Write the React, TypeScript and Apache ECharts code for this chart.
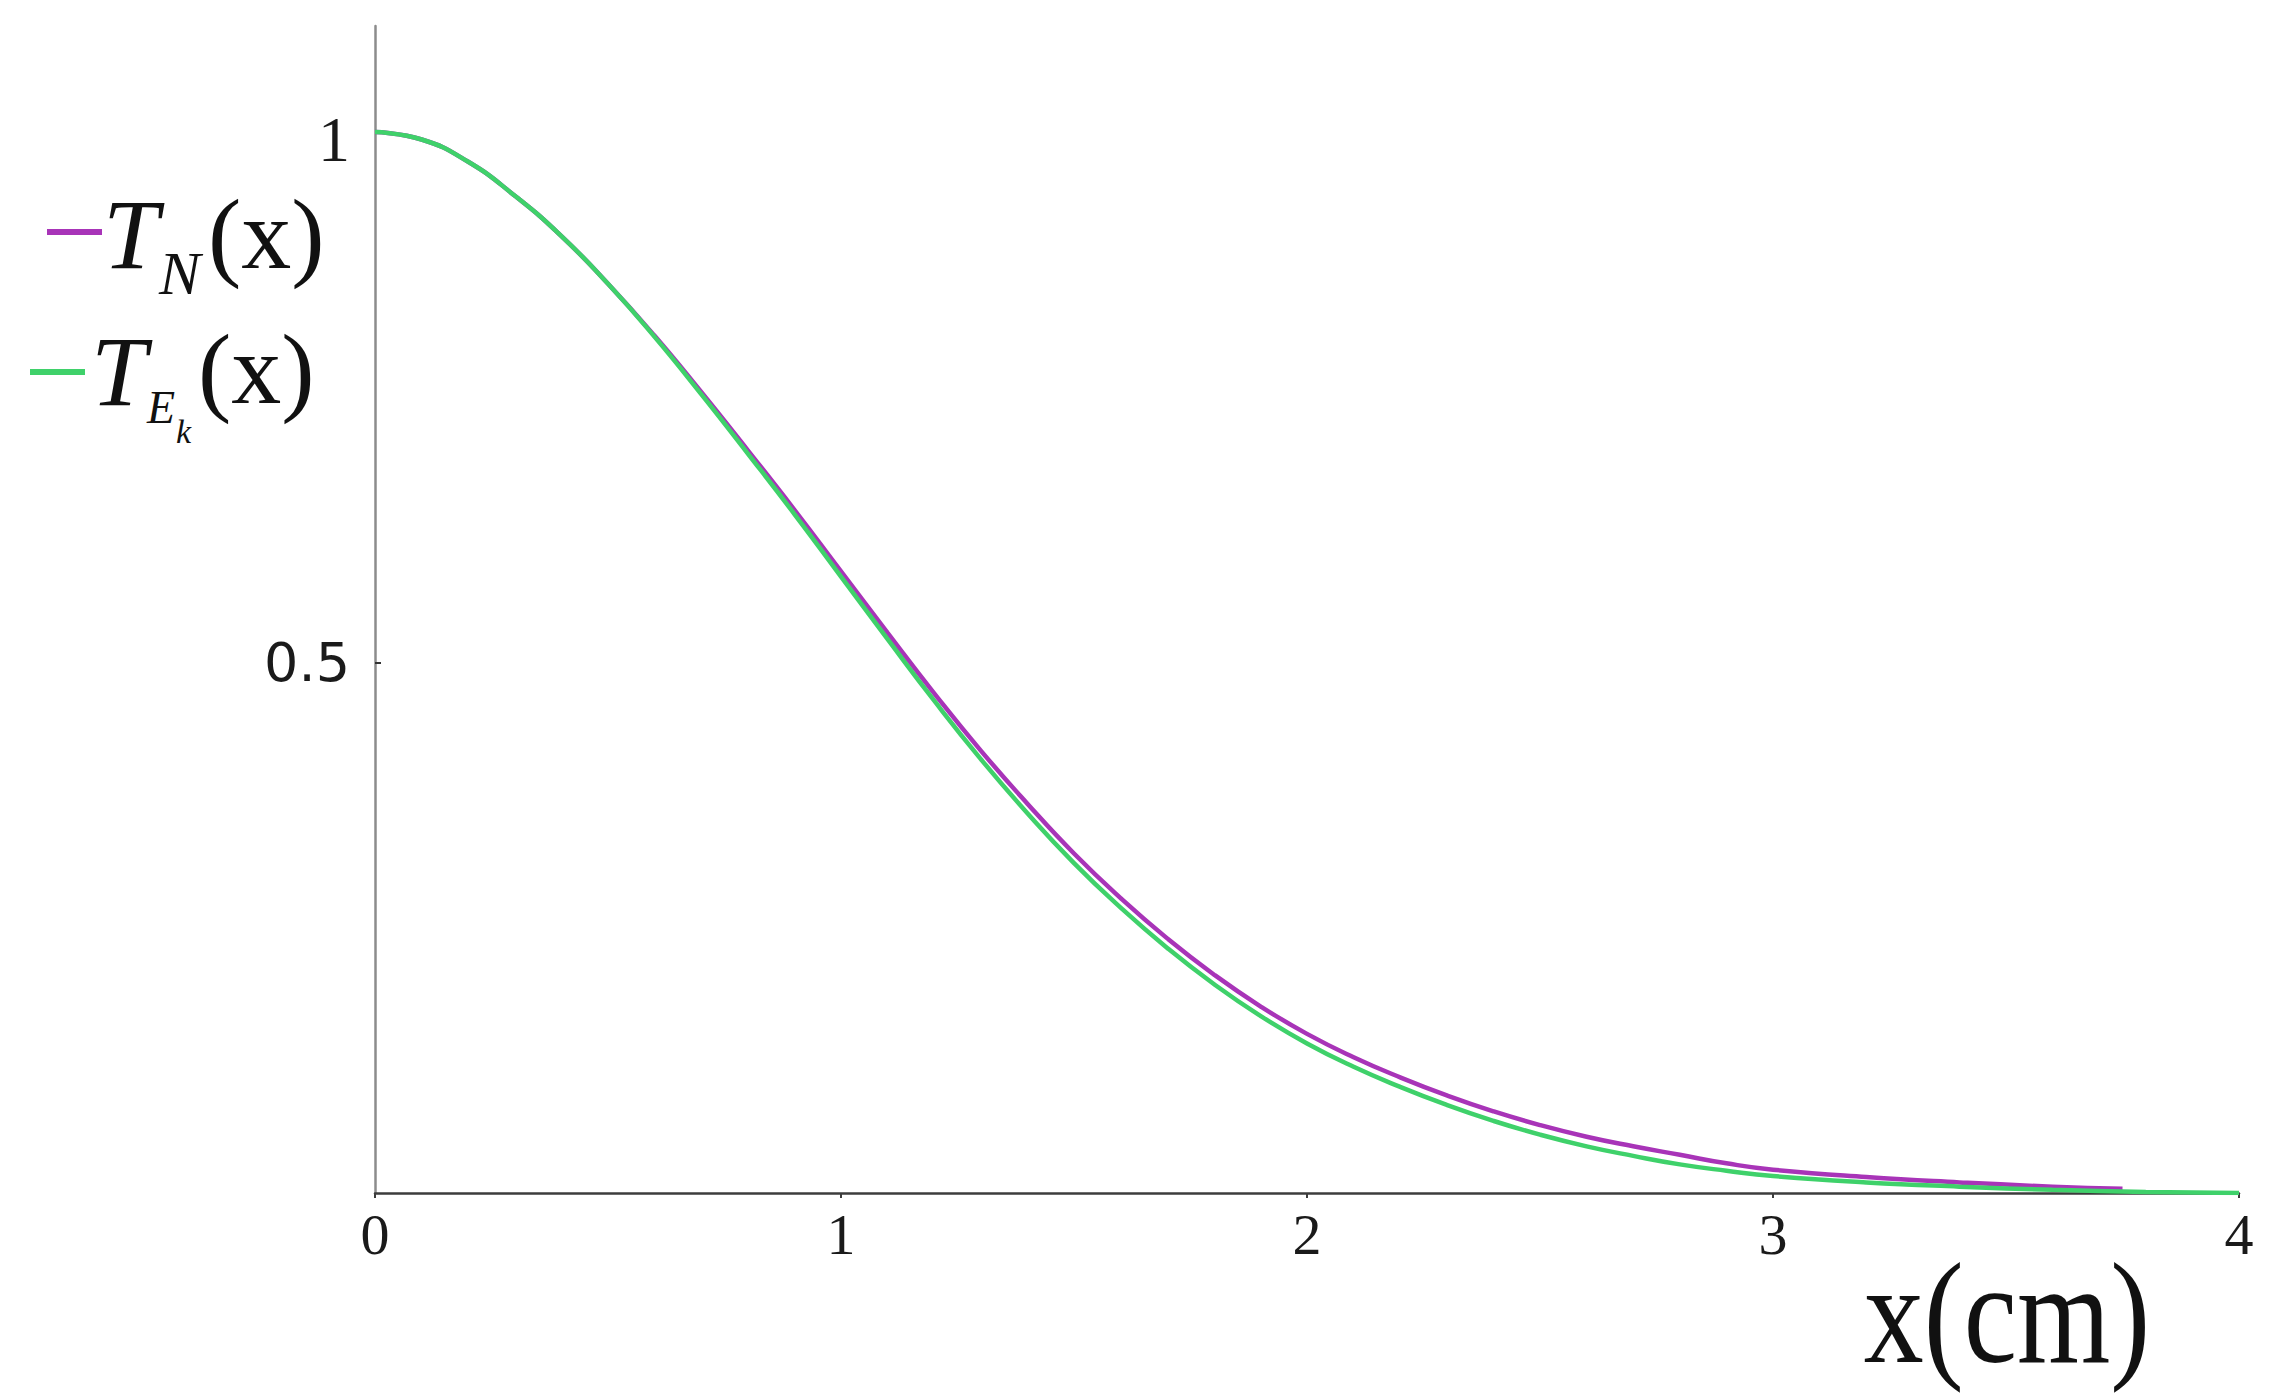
import React, { useEffect, useRef } from "react";
import * as echarts from "echarts";

// x positions (cm) and values
const xEk = [0, 0.1, 0.2, 0.3, 0.4, 0.5, 0.6, 0.7, 0.8, 0.9, 1.0, 1.1, 1.2, 1.3, 1.4, 1.5, 1.6, 1.7, 1.8, 1.9, 2.0, 2.1, 2.2, 2.3, 2.4, 2.5, 2.6, 2.7, 2.8, 2.9, 3.0, 3.2, 3.4, 3.6, 3.8, 4.0];
const tEkValues = [1.0, 0.993, 0.972, 0.94, 0.902, 0.857, 0.807, 0.753, 0.697, 0.64, 0.581, 0.522, 0.464, 0.409, 0.358, 0.311, 0.269, 0.231, 0.197, 0.167, 0.141, 0.119, 0.1, 0.083, 0.068, 0.055, 0.044, 0.035, 0.027, 0.021, 0.016, 0.01, 0.006, 0.003, 0.001, 0.0];

const xN = [0, 0.1, 0.2, 0.3, 0.4, 0.5, 0.6, 0.7, 0.8, 0.9, 1.0, 1.1, 1.2, 1.3, 1.4, 1.5, 1.6, 1.7, 1.8, 1.9, 2.0, 2.1, 2.2, 2.3, 2.4, 2.5, 2.6, 2.7, 2.8, 2.9, 3.0, 3.2, 3.4, 3.6, 3.75];
const tNValues = [1.0, 0.993, 0.972, 0.94, 0.902, 0.857, 0.808, 0.755, 0.7, 0.644, 0.586, 0.528, 0.471, 0.417, 0.367, 0.32, 0.278, 0.24, 0.206, 0.176, 0.15, 0.128, 0.109, 0.092, 0.077, 0.064, 0.053, 0.044, 0.036, 0.028, 0.022, 0.015, 0.01, 0.006, 0.004];

const seriesNames = ["T_N(x)", "T_Ek(x)"];
const yTickValues = [0.5, 1];
const xAxisTitle = "x(cm)";

const PINK = "#a834b8";
const GREEN = "#3fd16a";

export default function App() {
  const ref = useRef<HTMLDivElement>(null);

  useEffect(() => {
    if (!ref.current) return;
    const chart = echarts.init(ref.current, null, { renderer: "svg" });
    const serif = "Liberation Serif";
    const txt = (text: string, x: number, y: number, fontSize: number, italic: boolean) => ({
      type: "text",
      x,
      y,
      style: {
        text,
        fontFamily: serif,
        fontStyle: italic ? "italic" : "normal",
        fontSize,
        fill: "#111",
        align: "left",
        verticalAlign: "middle",
      },
    });

    chart.setOption({
      animation: false,
      backgroundColor: "#ffffff",
      grid: { left: 375, right: 42, top: 26, bottom: 200, containLabel: false },
      xAxis: {
        type: "value",
        min: 0,
        max: 4,
        interval: 1,
        axisLine: { show: true, onZero: false, lineStyle: { color: "#3c3c3c", width: 2.5 } },
        axisTick: { show: true, length: 5, lineStyle: { color: "#3c3c3c", width: 2 } },
        axisLabel: { fontFamily: serif, fontSize: 58, color: "#1a1a1a", margin: 12 },
        splitLine: { show: false },
      },
      yAxis: {
        type: "value",
        min: 0,
        max: 1.1,
        interval: 0.5,
        axisLine: { show: true, lineStyle: { color: "#8c8c8c", width: 2.5 } },
        axisTick: {
          show: true,
          inside: true,
          length: 6,
          customValues: yTickValues,
          lineStyle: { color: "#333333", width: 2 },
        },
        axisLabel: {
          customValues: yTickValues,
          margin: 25,
          formatter: (v: number) => (v === 1 ? "{r|1}" : "{s|0.5}"),
          rich: {
            r: { fontFamily: serif, fontSize: 64, color: "#1a1a1a", padding: [14, 0, 0, 0] },
            s: { fontFamily: "DejaVu Sans", fontSize: 54, color: "#1a1a1a" },
          },
        },
        splitLine: { show: false },
      },
      series: [
        {
          type: "line",
          name: seriesNames[0],
          data: xN.map((x, i) => [x, tNValues[i]]),
          symbol: "none",
          showSymbol: false,
          smooth: true,
          lineStyle: { color: PINK, width: 4.5 },
          itemStyle: { color: PINK },
          z: 2,
        },
        {
          type: "line",
          name: seriesNames[1],
          data: xEk.map((x, i) => [x, tEkValues[i]]),
          symbol: "none",
          showSymbol: false,
          smooth: true,
          lineStyle: { color: GREEN, width: 4.5 },
          itemStyle: { color: GREEN },
          z: 3,
        },
      ],
      graphic: [
        // legend entry 1
        { type: "line", shape: { x1: 47, y1: 232, x2: 102, y2: 232 }, style: { stroke: PINK, lineWidth: 6 } },
        txt("T", 103, 234, 100, true),
        txt("N", 159, 273, 62, true),
        txt("(x)", 208, 234, 100, false),
        // legend entry 2
        { type: "line", shape: { x1: 30, y1: 372, x2: 85, y2: 372 }, style: { stroke: GREEN, lineWidth: 6 } },
        txt("T", 91, 371, 100, true),
        txt("E", 147, 407, 46, true),
        txt("k", 176, 431, 34, true),
        txt("(x)", 198, 369, 100, false),
        // x axis title
        {
          type: "text",
          x: 2007,
          y: 1314,
          scaleY: 1.2,
          style: { text: xAxisTitle, fontFamily: serif, fontSize: 120, fill: "#111", align: "center", verticalAlign: "middle" },
        },
      ],
    });

    return () => chart.dispose();
  }, []);

  return (
    <div
      ref={ref}
      style={{ position: "absolute", left: 0, top: 0, width: 2281, height: 1393, background: "#fff" }}
    />
  );
}
